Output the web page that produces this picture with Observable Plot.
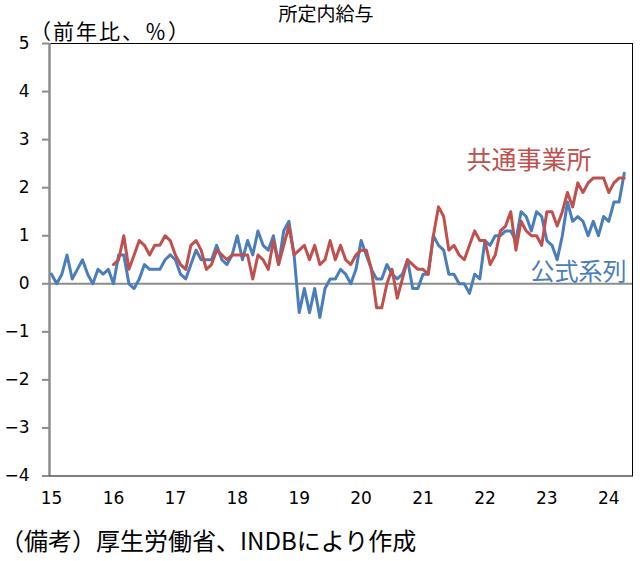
<!DOCTYPE html>
<html>
<head>
<meta charset="utf-8">
<script src="https://cdn.jsdelivr.net/npm/d3@7"></script>
<script src="https://cdn.jsdelivr.net/npm/@observablehq/plot@0.6"></script>
<style>
  html, body { margin: 0; padding: 0; background: #fff; }
  #wrap { position: relative; width: 643px; height: 561px; overflow: hidden; font-family: "Noto Sans CJK JP", "Noto Sans", sans-serif; color: #000; }
  .t { position: absolute; white-space: nowrap; z-index: 2; }
  #chart { position: absolute; left: 0; top: 22px; z-index: 1; }
</style>
</head>
<body>
<div id="wrap">
  <div id="chart"></div>
  <div class="t" id="title" style="left:0; width:652px; text-align:center; top:1px; font-size:19px; line-height:24px;"></div>
  <div class="t" id="ylabel" style="left:30px; top:19px; font-size:21px; line-height:22px; letter-spacing:2px;"></div>
  <div class="t" id="caption" style="left:0px; top:526px; font-size:24px; line-height:28px;"></div>
</div>
<script>
// ---- text ----
const titleText = "所定内給与";
const yLabelText = "（前年比、％）";
const captionText = "（備考）厚生労働省、INDBにより作成";
const seriesNames = ["公式系列", "共通事業所"];

// ---- axes ----
const yearLabels = ["15", "16", "17", "18", "19", "20", "21", "22", "23", "24"];
const yTicks = [-4, -3, -2, -1, 0, 1, 2, 3, 4, 5];

// ---- series: monthly, y/y %, blue from Jan 2015, red from Jan 2016 ----
const officialSeries = [
  0.2, 0.0, 0.2, 0.6, 0.1, 0.3, 0.5, 0.2, 0.0, 0.3, 0.2, 0.3,
  0.0, 0.6, 0.6, 0.0, -0.1, 0.1, 0.4, 0.3, 0.3, 0.3, 0.5, 0.6,
  0.5, 0.2, 0.1, 0.4, 0.7, 0.5, 0.5, 0.5, 0.8, 0.5, 0.4, 0.6,
  1.0, 0.5, 0.9, 0.6, 1.1, 0.8, 0.7, 1.0, 0.4, 1.1, 1.3, 0.6,
  -0.6, -0.1, -0.6, -0.1, -0.7, -0.1, 0.1, 0.1, 0.3, 0.2, 0.0, 0.3,
  0.9, 0.6, 0.3, 0.1, 0.1, 0.4, 0.2, 0.1, 0.2, 0.5, -0.1, -0.1,
  0.2, 0.2, 1.0, 0.8, 0.7, 0.2, 0.2, 0.0, 0.0, -0.2, 0.2, 0.1,
  0.9, 0.8, 1.0, 1.0, 1.1, 1.1, 0.9, 1.5, 1.4, 1.1, 1.5, 1.4,
  0.9, 0.8, 0.5, 1.0, 1.7, 1.3, 1.4, 1.3, 1.0, 1.3, 1.0, 1.4,
  1.3, 1.7, 1.7, 2.3
];
const commonSeries = [
  0.4, 0.5, 1.0, 0.3, 0.6, 0.9, 0.8, 0.6, 0.8, 0.8, 1.0, 0.9,
  0.6, 0.4, 0.3, 0.8, 0.9, 0.7, 0.3, 0.4, 0.7, 0.6, 0.5, 0.6,
  0.6, 0.6, 0.6, 0.1, 0.6, 0.5, 0.3, 0.9, 0.4, 0.8, 1.2, 0.6,
  0.7, 0.8, 0.5, 0.8, 0.4, 0.5, 0.9, 0.5, 0.8, 0.5, 0.4, 0.6,
  0.7, 0.7, 0.3, -0.5, -0.5, 0.0, 0.3, -0.3, 0.1, 0.5, 0.4, 0.3,
  0.3, 0.2, 1.0, 1.6, 1.4, 0.7, 0.8, 0.6, 0.5, 0.8, 1.1, 0.9,
  0.9, 0.4, 0.6, 1.1, 1.2, 1.5, 0.7, 1.3, 1.1, 1.0, 1.0, 0.8,
  1.5, 1.5, 1.2, 1.5, 1.9, 1.6, 2.1, 1.9, 2.1, 2.2, 2.2, 2.2,
  1.9, 2.1, 2.2, 2.2
];
const officialStartMonth = 0;   // months after Jan 2015
const commonStartMonth = 12;    // Jan 2016

const blueColor = "#4a7ebb";
const redColor = "#c0504d";

const officialRows = officialSeries.map((v, k) => ({m: officialStartMonth + k, v}));
const commonRows = commonSeries.map((v, k) => ({m: commonStartMonth + k, v}));
const xDomain = [-0.4, 112.6];

document.getElementById("title").textContent = titleText;
document.getElementById("ylabel").textContent = yLabelText;
document.getElementById("caption").textContent = captionText;

const chart = Plot.plot({
  width: 643,
  height: 490,
  marginLeft: 49,
  marginRight: 11,
  marginTop: 21,
  marginBottom: 36.5,
  style: {fontFamily: "'DejaVu Sans', 'Noto Sans', sans-serif", fontSize: "17px", background: "transparent", color: "black"},
  x: {domain: xDomain, type: "linear"},
  y: {domain: [-4, 5]},
  marks: [
    Plot.frame({stroke: "black", strokeWidth: 1}),
    Plot.ruleY([0], {stroke: "#8c8c8c", strokeWidth: 2}),
    Plot.ruleX([xDomain[0]], {stroke: "#8c8c8c", strokeWidth: 2.5}),
    Plot.axisY({ticks: yTicks, tickSize: 7, tickPadding: 13, stroke: "#8c8c8c", strokeWidth: 2, fill: "black", label: null, tickFormat: d => d < 0 ? "−" + Math.abs(d) : String(d)}),
    Plot.axisX({ticks: yearLabels.map((_, k) => k * 12), tickFormat: d => yearLabels[d / 12], tickSize: 0, tickPadding: 16, fill: "black", label: null}),
    Plot.line(officialRows, {x: "m", y: "v", stroke: blueColor, strokeWidth: 3, strokeLinejoin: "round"}),
    Plot.line(commonRows, {x: "m", y: "v", stroke: redColor, strokeWidth: 3, strokeLinejoin: "round"}),
    Plot.text([seriesNames[1]], {frameAnchor: "top-right", text: d => d, dx: -41, dy: 117, textAnchor: "end", lineAnchor: "middle", fill: redColor, fontSize: 25, fontFamily: "'Noto Sans CJK JP', sans-serif"}),
    Plot.text([seriesNames[0]], {frameAnchor: "top-right", text: d => d, dx: -6, dy: 229, textAnchor: "end", lineAnchor: "middle", fill: blueColor, fontSize: 24, fontFamily: "'Noto Sans CJK JP', sans-serif"})
  ]
});
document.getElementById("chart").appendChild(chart);
</script>
</body>
</html>
